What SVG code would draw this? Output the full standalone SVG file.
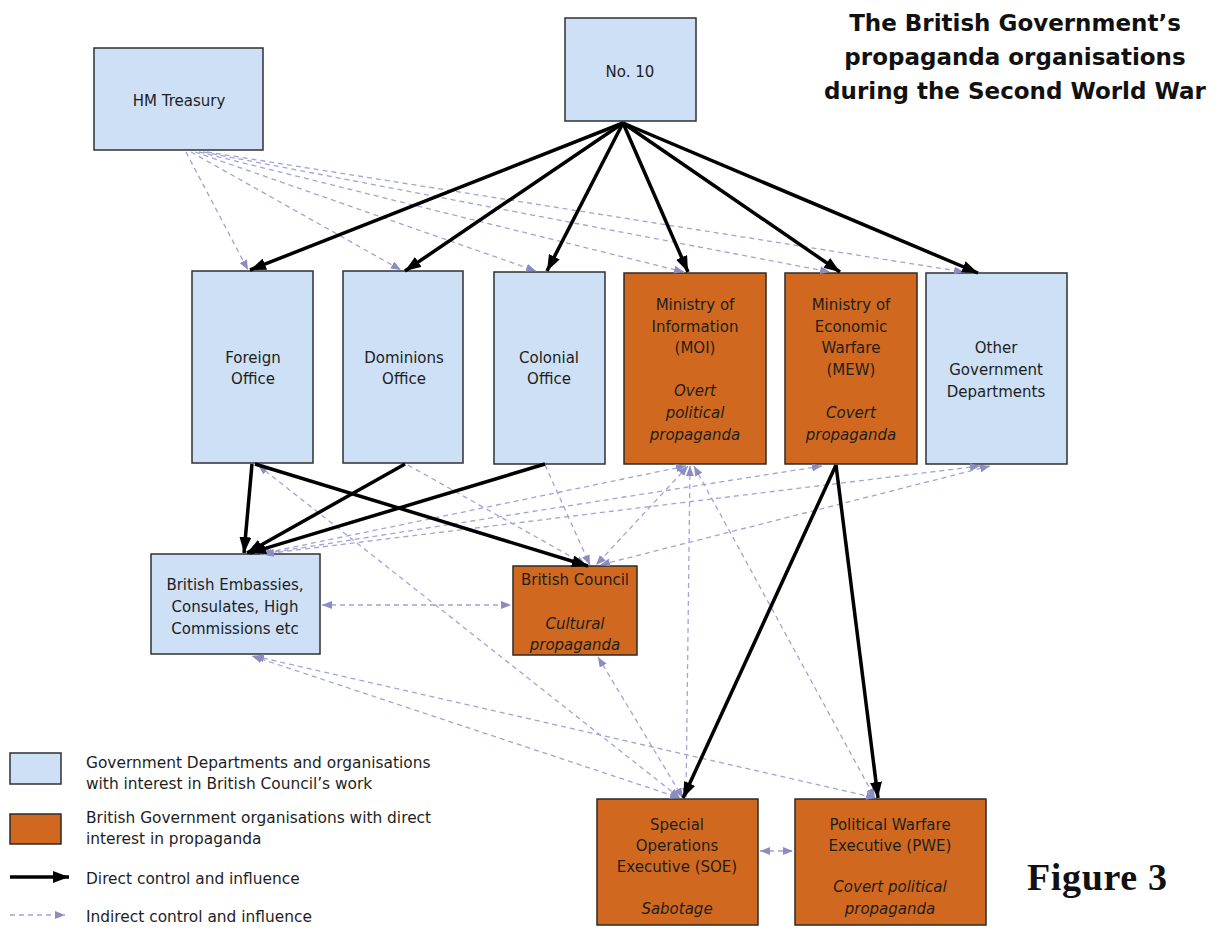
<svg xmlns="http://www.w3.org/2000/svg" width="1225" height="930" viewBox="0 0 1225 930">
<style>
.blue{fill:#cde0f5;stroke:#2e3033;stroke-width:1.5}
.orange{fill:#d0691f;stroke:#2e2a26;stroke-width:1.5}
.t{font-family:"DejaVu Sans",Verdana,sans-serif;font-size:15px;fill:#1e1e1e;text-anchor:middle}
.i{font-style:italic}
.lg{font-family:"DejaVu Sans",Verdana,sans-serif;font-size:15.4px;fill:#1e1e1e}
.title{font-family:"DejaVu Sans",Verdana,sans-serif;font-size:23px;font-weight:bold;fill:#111;text-anchor:middle}
.solid{stroke:#000;stroke-width:3.5;fill:none;marker-end:url(#ah)}
.dash{stroke:#a3a3d6;stroke-width:1.3;stroke-dasharray:5 4;fill:none;marker-end:url(#dh)}
.both{marker-start:url(#dh)}
</style>
<defs>
<marker id="ah" markerUnits="userSpaceOnUse" viewBox="0 0 16 12" refX="16" refY="6" markerWidth="16" markerHeight="12" orient="auto"><path d="M0,0 L16,6 L0,12 z" fill="#000"/></marker>
<marker id="dh" markerUnits="userSpaceOnUse" viewBox="0 0 10 8" refX="10" refY="4" markerWidth="10" markerHeight="8" orient="auto-start-reverse"><path d="M0,0 L10,4 L0,8 z" fill="#8c8cc4"/></marker>
</defs>
<rect width="1225" height="930" fill="#fff"/>

<g id="title">
<text class="title" x="1015" y="31">The British Government’s</text>
<text class="title" x="1015" y="65">propaganda organisations</text>
<text class="title" x="1015" y="99">during the Second World War</text>
</g>

<g id="hm-treasury"><rect class="blue" x="94" y="48" width="169" height="102"/><text class="t" x="179" y="106">HM Treasury</text></g>
<g id="no10"><rect class="blue" x="565" y="18" width="131" height="103"/><text class="t" x="630" y="77">No. 10</text></g>
<g id="foreign-office"><rect class="blue" x="192" y="271" width="121" height="192"/><text class="t" x="253" y="363">Foreign</text><text class="t" x="253" y="384">Office</text></g>
<g id="dominions-office"><rect class="blue" x="343" y="271" width="120" height="192"/><text class="t" x="404" y="363">Dominions</text><text class="t" x="404" y="384">Office</text></g>
<g id="colonial-office"><rect class="blue" x="494" y="272" width="111" height="192"/><text class="t" x="549" y="363">Colonial</text><text class="t" x="549" y="384">Office</text></g>
<g id="moi"><rect class="orange" x="624" y="273" width="142" height="191"/>
<text class="t" x="695" y="310">Ministry of</text><text class="t" x="695" y="332">Information</text><text class="t" x="695" y="353">(MOI)</text>
<text class="t i" x="695" y="396">Overt</text><text class="t i" x="695" y="418">political</text><text class="t i" x="695" y="440">propaganda</text></g>
<g id="mew"><rect class="orange" x="785" y="273" width="132" height="191"/>
<text class="t" x="851" y="310">Ministry of</text><text class="t" x="851" y="332">Economic</text><text class="t" x="851" y="353">Warfare</text><text class="t" x="851" y="375">(MEW)</text>
<text class="t i" x="851" y="418">Covert</text><text class="t i" x="851" y="440">propaganda</text></g>
<g id="other-departments"><rect class="blue" x="926" y="273" width="141" height="191"/><text class="t" x="996" y="353">Other</text><text class="t" x="996" y="375">Government</text><text class="t" x="996" y="397">Departments</text></g>
<g id="embassies"><rect class="blue" x="151" y="554" width="169" height="100"/><text class="t" x="235" y="590">British Embassies,</text><text class="t" x="235" y="612">Consulates, High</text><text class="t" x="235" y="634">Commissions etc</text></g>
<g id="british-council"><rect class="orange" x="513" y="566" width="124" height="89"/><text class="t" x="575" y="585">British Council</text><text class="t i" x="575" y="629">Cultural</text><text class="t i" x="575" y="650">propaganda</text></g>
<g id="soe"><rect class="orange" x="597" y="799" width="161" height="126"/><text class="t" x="677" y="830">Special</text><text class="t" x="677" y="851">Operations</text><text class="t" x="677" y="872">Executive (SOE)</text><text class="t i" x="677" y="914">Sabotage</text></g>
<g id="pwe"><rect class="orange" x="795" y="799" width="191" height="126"/><text class="t" x="890" y="830">Political Warfare</text><text class="t" x="890" y="851">Executive (PWE)</text><text class="t i" x="890" y="892">Covert political</text><text class="t i" x="890" y="914">propaganda</text></g>

<g id="connectors">
<line class="dash" x1="186" y1="152" x2="248" y2="270"/>
<line class="dash" x1="191" y1="152" x2="401" y2="270"/>
<line class="dash" x1="195" y1="152" x2="536" y2="271"/>
<line class="dash" x1="199" y1="152" x2="684" y2="272"/>
<line class="dash" x1="203" y1="152" x2="830" y2="272"/>
<line class="dash" x1="207" y1="152" x2="964" y2="272"/>
<line class="dash both" x1="258" y1="465" x2="680" y2="798"/>
<line class="dash" x1="408" y1="465" x2="586" y2="565"/>
<line class="dash" x1="545" y1="465" x2="590" y2="565"/>
<line class="dash both" x1="688" y1="466" x2="596" y2="565"/>
<line class="dash both" x1="686" y1="466" x2="260" y2="554"/>
<line class="dash both" x1="822" y1="466" x2="262" y2="554"/>
<line class="dash both" x1="980" y1="466" x2="264" y2="554"/>
<line class="dash both" x1="990" y1="466" x2="600" y2="565"/>
<line class="dash both" x1="690" y1="466" x2="686" y2="798"/>
<line class="dash both" x1="694" y1="466" x2="875" y2="798"/>
<line class="dash both" x1="252" y1="656" x2="680" y2="798"/>
<line class="dash both" x1="254" y1="656" x2="876" y2="798"/>
<line class="dash both" x1="598" y1="657" x2="683" y2="798"/>
<line class="dash both" x1="322" y1="605" x2="511" y2="605"/>
<line class="dash both" x1="760" y1="851" x2="793" y2="851"/>
<line class="solid" x1="623" y1="123" x2="250" y2="270"/>
<line class="solid" x1="623" y1="123" x2="405" y2="271"/>
<line class="solid" x1="623" y1="123" x2="547" y2="271"/>
<line class="solid" x1="623" y1="123" x2="688" y2="272"/>
<line class="solid" x1="623" y1="123" x2="840" y2="272"/>
<line class="solid" x1="623" y1="123" x2="978" y2="273"/>
<line class="solid" x1="252" y1="464" x2="244" y2="553"/>
<line class="solid" x1="255" y1="464" x2="588" y2="566"/>
<line class="solid" x1="405" y1="464" x2="247" y2="553"/>
<line class="solid" x1="545" y1="464" x2="250" y2="553"/>
<line class="solid" x1="836" y1="465" x2="683" y2="798"/>
<line class="solid" x1="836" y1="465" x2="878" y2="798"/>
</g>

<g id="legend">
<rect class="blue" x="10" y="753" width="51" height="31"/>
<text class="lg" x="86" y="768">Government Departments and organisations</text>
<text class="lg" x="86" y="789">with interest in British Council’s work</text>
<rect class="orange" x="10" y="814" width="51" height="30"/>
<text class="lg" x="86" y="823">British Government organisations with direct</text>
<text class="lg" x="86" y="844">interest in propaganda</text>
<line class="solid" x1="10" y1="877" x2="69" y2="877"/>
<text class="lg" x="86" y="884">Direct control and influence</text>
<line class="dash" x1="10" y1="915" x2="65" y2="915"/>
<text class="lg" x="86" y="922">Indirect control and influence</text>
</g>

<text x="1027" y="890" font-family="Liberation Serif,serif" font-size="38" font-weight="bold" textLength="140" fill="#111">Figure 3</text>
</svg>
